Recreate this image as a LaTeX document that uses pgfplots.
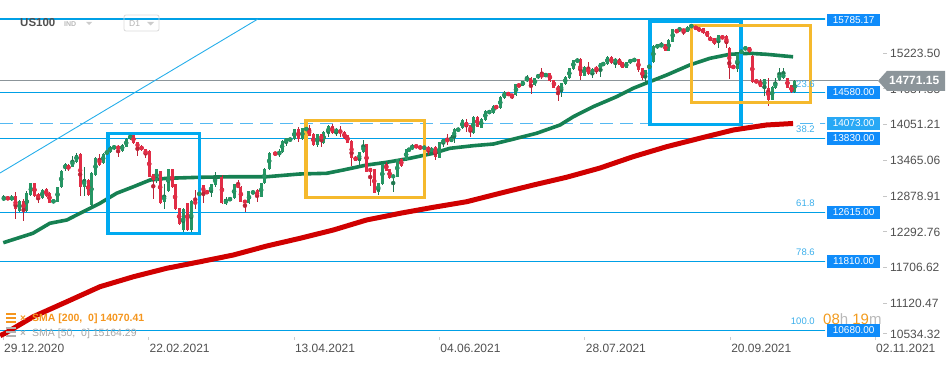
\documentclass[border=0pt]{standalone}
\usepackage{fontspec}
\setmainfont{Liberation Sans}
\usepackage{pgfplots}
\usepackage{pgfplotstable}
\pgfplotsset{compat=1.18}

\definecolor{cgreen}{RGB}{38,150,100}
\definecolor{cgreenw}{RGB}{30,120,80}
\definecolor{cred}{RGB}{225,45,70}
\definecolor{credw}{RGB}{190,35,55}
\definecolor{smagreen}{RGB}{22,128,82}
\definecolor{smared}{RGB}{208,0,0}
\definecolor{lvl}{RGB}{0,160,230}
\definecolor{lvldash}{RGB}{85,185,242}
\definecolor{boxblue}{RGB}{0,170,240}
\definecolor{boxorange}{RGB}{245,185,45}
\definecolor{tagblue}{RGB}{15,140,250}
\definecolor{tagblue2}{RGB}{40,168,245}
\definecolor{pricegray}{RGB}{140,149,154}
\definecolor{txtgray}{RGB}{80,80,80}
\definecolor{fibblue}{RGB}{60,175,235}
\definecolor{tmorange}{RGB}{242,155,30}
\definecolor{legorange}{RGB}{245,150,30}

\newcommand{\td}{{\color{gray!45}\rule[4pt]{4pt}{0.7pt}}\hspace{3pt}}

\pgfplotstableread{
i o h l c
0.2 12816 12898 12800 12860
2.2 12816 12890 12800 12871
4.1 12641 12810 12620 12794
5.9 12641 12960 12620 12937
6.9 12898 13100 12880 13090
9.7 12844 12995 12830 12980
12.5 12772 12830 12760 12816
13.5 12789 13030 12780 13024
14.4 13024 13310 13010 13298
15.4 13319 13420 13300 13407
17.2 13363 13538 13350 13473
18.2 13445 13593 13430 13560
20.1 13035 13363 12882 13155
21.9 12734 13270 12720 13254
22.9 13226 13520 13210 13500
24.8 13429 13590 13410 13571
25.7 13570 13640 13550 13620
26.5 13604 13700 13590 13680
27.5 13659 13720 13640 13702
29.5 13626 13740 13610 13724
30.5 13691 13830 13680 13812
31.5 13812 13900 13800 13883
38.0 13128 13330 13100 13325
39.9 12789 13073 12668 12898
40.9 12964 13330 12942 13325
44.6 12324 12680 12269 12668
46.6 12324 12810 12269 12800
48.6 12800 13050 12780 13035
51.5 12926 13080 12871 13073
52.5 13062 13281 13035 13199
55.2 12745 12860 12740 12833
56.2 12816 12850 12810 12843
57.2 12843 13080 12830 13073
60.9 12761 12970 12750 12964
61.9 12920 12970 12910 12964
63.9 12871 13100 12860 13090
64.7 13090 13340 13080 13325
65.9 13325 13600 13310 13593
68.4 13555 13648 13516 13626
69.1 13600 13800 13590 13790
70.1 13757 13840 13702 13828
71.1 13790 13835 13780 13828
72.1 13812 13985 13800 13976
74.1 13812 14000 13800 13992
75.1 13960 14020 13940 14000
77.8 13719 13905 13691 13899
79.4 13746 13945 13740 13937
80.5 13899 14040 13855 14030
82.5 13932 13990 13866 13976
88.2 13462 13605 13390 13598
89.2 13598 13801 13590 13719
92.9 12953 13100 12898 13090
93.9 13079 13415 13070 13407
96.6 13183 13235 12953 13226
97.6 13199 13490 13190 13483
99.8 13473 13660 13460 13653
100.5 13621 13670 13610 13664
101.3 13648 13735 13640 13703
104.3 13650 13710 13640 13700
106.1 13599 13690 13590 13675
108.0 13511 13770 13500 13763
109.0 13746 13825 13692 13817
111.0 13774 13883 13765 13828
111.7 13828 13990 13746 13982
112.7 13949 14000 13940 13992
113.7 13992 14140 13980 14129
116.4 13910 14195 13900 14184
118.4 14003 14155 13995 14146
119.4 14129 14285 14120 14277
120.4 14239 14290 14230 14277
121.4 14239 14375 14230 14364
123.1 14321 14520 14310 14512
124.1 14485 14600 14475 14594
127.0 14539 14720 14530 14715
128.7 14693 14775 14685 14769
129.7 14769 14868 14760 14824
131.7 14704 14820 14695 14813
132.5 14813 14890 14805 14879
134.4 14840 14900 14830 14895
138.2 14583 14740 14512 14731
139.2 14714 14850 14700 14840
140.2 14813 14985 14805 14977
141.2 14966 15120 14955 15114
142.2 15075 15140 15070 15130
143.9 14856 15010 14850 15004
145.9 14895 14975 14813 14966
147.9 14977 15065 14840 15059
148.6 15021 15085 15010 15075
149.6 15042 15175 15035 15168
151.6 15075 15140 14988 15130
154.3 14988 15080 14980 15075
155.3 15059 15135 15050 15130
156.3 15097 15140 15090 15130
159.0 14840 14955 14731 14949
160.0 14911 15105 14900 15097
161.0 15075 15355 15070 15349
162.0 15305 15380 15300 15371
163.0 15332 15403 15325 15371
164.8 15261 15450 15255 15442
165.8 15414 15630 15405 15622
167.5 15589 15650 15580 15644
169.5 15578 15670 15570 15661
170.4 15650 15700 15640 15690
177.1 15387 15530 15316 15524
181.8 14966 15215 14922 15207
182.8 15207 15300 15200 15290
183.8 15283 15335 15275 15327
188.5 14676 14810 14528 14802
190.4 14457 14685 14450 14676
191.2 14649 14813 14640 14758
192.2 14785 14988 14775 14895
193.2 14813 14988 14805 14895
196.0 14583 14790 14575 14771
}\up

\pgfplotstableread{
i o h l c
1.2 12860 12880 12810 12827
3.1 12882 12953 12510 12663
5.1 12794 12827 12477 12652
7.8 13090 13100 12860 12882
8.7 12915 12930 12761 12844
10.7 13002 13020 12870 12882
11.5 12937 12950 12760 12772
16.2 13385 13400 13300 13319
19.1 13571 13590 12882 13035
21.1 13144 13160 12880 12898
23.9 13500 13571 13380 13391
28.5 13702 13720 13516 13648
32.3 13883 13900 13730 13746
33.3 13762 13770 13544 13675
34.3 13708 13720 13620 13631
35.3 13653 13660 13500 13555
36.2 13620 13630 13190 13199
37.2 13237 13250 12833 13144
38.9 13292 13300 12750 12761
41.9 13325 13330 13020 13035
42.6 13073 13080 12650 12663
43.6 12679 12690 12400 12417
45.6 12761 12770 12310 12324
47.6 12800 12980 12668 12745
49.6 13062 13070 12761 12926
50.5 12964 12970 12920 12926
54.2 13199 13220 12750 12761
58.2 13073 13144 13010 13019
58.9 13035 13040 12780 12789
59.9 12816 12820 12625 12761
62.9 12980 12990 12778 12871
67.4 13604 13610 13540 13555
73.1 13987 14019 13773 13812
75.8 13992 14047 13860 13866
76.8 13899 13910 13700 13713
78.8 13899 13905 13691 13790
81.5 14030 14063 13900 13910
83.5 13965 14030 13855 13910
84.5 13937 13945 13820 13828
85.3 13883 13890 13750 13757
86.3 13790 13800 13374 13500
87.3 13527 13540 13450 13462
90.0 13735 13740 13270 13281
90.9 13336 13340 13046 13281
91.9 13319 13330 12925 12936
94.9 13407 13445 13290 13297
95.7 13319 13330 13160 13172
98.6 13483 13500 13360 13374
102.3 13719 13725 13670 13675
103.3 13708 13715 13640 13648
105.3 13692 13700 13555 13621
107.0 13692 13700 13473 13528
110.0 13817 13894 13720 13774
114.7 14102 14146 13938 14020
115.7 14047 14055 13856 13927
117.4 14184 14195 14010 14020
122.1 14359 14365 14315 14321
125.1 14583 14590 14520 14529
126.0 14550 14555 14474 14512
127.7 14715 14720 14670 14676
130.7 14824 14830 14550 14704
133.4 14878 14977 14802 14840
135.4 14895 14900 14760 14769
136.4 14785 14790 14650 14660
137.4 14692 14700 14441 14583
142.9 15130 15140 14785 14856
144.9 15004 15075 14870 14878
146.9 15004 15010 14878 14933
150.6 15168 15175 15050 15059
152.6 15130 15152 15025 15031
153.3 15075 15080 14980 14988
157.3 15130 15135 14922 14949
158.3 14977 14985 14785 14813
164.0 15371 15380 15255 15261
166.8 15606 15615 15560 15568
168.5 15622 15630 15524 15578
171.5 15661 15670 15615 15622
172.3 15644 15650 15580 15589
173.3 15633 15640 15545 15551
174.3 15589 15595 15490 15496
175.1 15496 15500 15420 15425
176.1 15469 15475 15365 15371
178.1 15513 15520 15450 15458
179.1 15513 15520 15305 15371
179.8 15316 15320 14802 14977
180.8 15021 15030 14970 14977
184.8 15327 15335 15230 15239
185.5 15185 15190 14740 14747
186.5 14785 14790 14731 14747
187.5 14758 14802 14670 14676
189.4 14660 14813 14364 14457
194.2 14813 14820 14650 14660
195.2 14704 14710 14575 14583
}\dn

\pgfplotstableread{
i v
0.07 12115
7.4 12270
11.6 12434
15.8 12488
20.7 12652
24.0 12762
28.1 12926
32.3 13034
36.4 13144
40.5 13172
48.8 13189
56.9 13198
65.3 13198
73.5 13243
80.1 13254
84.2 13308
90.0 13390
95.0 13435
100.7 13500
106.5 13582
110.6 13664
116.4 13707
121.4 13735
125.5 13801
132.1 13911
137.9 14047
141.2 14183
146.1 14347
151.9 14511
156.0 14649
160.1 14757
164.3 14867
170.0 15031
175.0 15141
179.9 15207
184.9 15223
189.0 15207
195.6 15166
}\smaA

\pgfplotstableread{
i v
-0.7 10590
0.5 10628
7.5 10901
15.8 11147
24.0 11393
32.3 11557
40.5 11695
48.8 11803
57.0 11913
65.3 12061
73.5 12187
81.8 12324
90.0 12488
98.3 12598
106.5 12696
114.8 12788
123.0 12926
131.3 13062
139.5 13189
147.8 13341
156.0 13527
164.3 13691
172.5 13829
180.8 13965
189.0 14047
195.6 14072
}\smaB

\pgfplotsset{
  candle/.style n args={2}{color=#1, only marks, mark=none,
    error bars/.cd, y dir=both, y explicit, error mark=none,
    error mark options={draw=none},
    error bar style={color=#1, solid, line width=#2}},
}

\begin{document}
\begin{tikzpicture}
\begin{axis}[
  at={(0pt,25pt)}, anchor=south west,
  scale only axis, width=825pt, height=340pt,
  xmin=-0.74, xmax=203.5, ymin=10518.6, ymax=16098,
  axis line style={draw=none},
  xtick={0,36,72,108,144,180},
  xticklabels={29.12.2020,22.02.2021,13.04.2021,04.06.2021,28.07.2021,20.09.2021},
  xtick pos=left,
  xticklabel style={anchor=north west, inner sep=0pt, xshift=1pt, yshift=-3.5pt,
     font=\fontsize{12}{14}\selectfont, text=txtgray},
  major tick length=3pt,
  xtick style={draw=gray!40, line width=0.6pt},
  ytick={11120.47,11706.62,12292.76,12878.91,13465.06,14051.21,14637.35,15223.50},
  yticklabels={{\td 11120.47},{\td 11706.62},{\td 12292.76},{\td 12878.91},{\td 13465.06},{\td 14051.21},{\td 14637.35},{\td 15223.50}},
  yticklabel pos=right,
  ytick style={draw=none},
  yticklabel style={anchor=west, inner sep=0pt, xshift=58pt,
     font=\fontsize{12}{14}\selectfont, text=txtgray},
  /pgf/number format/assume math mode=true,
]
% horizontal levels
\addplot[lvl, line width=1.2pt] coordinates {(-1,15785.17) (204,15785.17)};
\addplot[lvl, line width=1.2pt] coordinates {(-1,14580) (204,14580)};
\addplot[lvl, line width=1.2pt] coordinates {(-1,13830) (204,13830)};
\addplot[lvl, line width=1.2pt] coordinates {(-1,12615) (204,12615)};
\addplot[lvl, line width=1.2pt] coordinates {(-1,11810) (204,11810)};
\addplot[lvl, line width=1.2pt] coordinates {(-1,10680) (204,10680)};
\addplot[lvldash, line width=1.8pt, dash pattern=on 13pt off 7pt] coordinates {(-0.74,14073) (204,14073)};
\addplot[pricegray, line width=1.2pt] coordinates {(-1,14771.15) (204,14771.15)};
% trend line
\addplot[lvl!85, line width=0.9pt] coordinates {(-0.74,13259) (63.1,15786)};
% moving averages
\addplot[smared, line width=5pt, line join=round] table[x=i, y=v] {\smaB};
\addplot[smagreen, line width=3.6pt, line join=round] table[x=i, y=v] {\smaA};
% candles: wicks
\addplot[candle={cgreenw}{0.8pt}]
  table[x=i, y expr={(\thisrow{h}+\thisrow{l})/2}, y error expr={(\thisrow{h}-\thisrow{l})/2}] {\up};
\addplot[candle={credw}{0.8pt}]
  table[x=i, y expr={(\thisrow{h}+\thisrow{l})/2}, y error expr={(\thisrow{h}-\thisrow{l})/2}] {\dn};
% candles: bodies
\addplot[candle={cgreen}{3pt}]
  table[x=i, y expr={(\thisrow{o}+\thisrow{c})/2}, y error expr={max(abs(\thisrow{c}-\thisrow{o})/2,8)}] {\up};
\addplot[candle={cred}{3pt}]
  table[x=i, y expr={(\thisrow{o}+\thisrow{c})/2}, y error expr={max(abs(\thisrow{c}-\thisrow{o})/2,8)}] {\dn};
% boxes
\addplot[boxblue, line width=3.3pt, line join=miter, line cap=rect] coordinates {(26.0,13904) (48.6,13904) (48.6,12263) (26.0,12263) (26.0,13904)};
\addplot[boxorange, line width=3.3pt, line join=miter, line cap=rect] coordinates {(75.05,14120) (104.3,14120) (104.3,12860) (75.05,12860) (75.05,14120)};
\addplot[boxblue, line width=3.3pt, line join=miter, line cap=rect] coordinates {(160.2,15745) (182.7,15745) (182.7,14058) (160.2,14058) (160.2,15745)};
\addplot[boxorange, line width=3.3pt, line join=miter, line cap=rect] coordinates {(170.5,15683) (199.9,15683) (199.9,14419) (170.5,14419) (170.5,15683)};

\coordinate (p15785) at (axis cs:203.5,15785.17);
\coordinate (p14580) at (axis cs:203.5,14580);
\coordinate (p14073) at (axis cs:203.5,14073);
\coordinate (p13830) at (axis cs:203.5,13830);
\coordinate (p12615) at (axis cs:203.5,12615);
\coordinate (p11810) at (axis cs:203.5,11810);
\coordinate (p10680) at (axis cs:203.5,10680);
\coordinate (pcur) at (axis cs:203.5,14771.15);
\coordinate (f1) at (axis cs:201.0,14580);
\coordinate (f2) at (axis cs:201.0,13830);
\coordinate (f3) at (axis cs:201.0,12615);
\coordinate (f4) at (axis cs:201.0,11810);
\coordinate (f5) at (axis cs:201.0,10680);
\end{axis}

\tikzset{tag/.style={fill=tagblue, text=white, inner sep=0pt, minimum width=53pt,
   minimum height=13pt, anchor=west, font=\fontsize{10}{12}\selectfont},
  fib/.style={anchor=base east, inner sep=0pt, text=fibblue, font=\fontsize{9.5}{11}\selectfont}}
% price tags
\node[tag, minimum height=12pt] at ([xshift=2pt,yshift=-0.5pt]p15785) {15785.17};
\node[tag] at ([xshift=2pt]p14580) {14580.00};
\node[tag, fill=tagblue2] at ([xshift=2pt]p14073) {14073.00};
\node[tag] at ([xshift=2pt]p13830) {13830.00};
\node[tag] at ([xshift=2pt]p12615) {12615.00};
\node[tag] at ([xshift=2pt]p11810) {11810.00};
\node[tag] at ([xshift=2pt]p10680) {10680.00};
% current price
\draw[pricegray, line width=1.2pt] (pcur) -- ([xshift=53pt]pcur);
\fill[pricegray] ([xshift=53pt]pcur) -- ([xshift=62pt,yshift=-10pt]pcur) -- ([xshift=120pt,yshift=-10pt]pcur)
   -- ([xshift=120pt,yshift=10pt]pcur) -- ([xshift=62pt,yshift=10pt]pcur) -- cycle;
\node[anchor=west, inner sep=0pt, text=white, font=\bfseries\fontsize{12}{14}\selectfont] at ([xshift=64pt]pcur) {14771.15};
% fib labels
\node[fib] at ([yshift=5.5pt]f1) {23.6};
\node[fib] at ([yshift=5.5pt]f2) {38.2};
\node[fib] at ([yshift=5.5pt]f3) {61.8};
\node[fib] at ([yshift=5.5pt]f4) {78.6};
\node[fib] at ([yshift=5.5pt]f5) {100.0};
% bottom axis extras
\node[anchor=west, inner sep=0pt, font=\fontsize{12}{14}\selectfont, text=txtgray] at (883pt,31pt) {\td 10534.32};
\draw[gray!40, line width=0.6pt] (875pt,25pt) -- (875pt,28pt);
\node[anchor=north west, inner sep=0pt, font=\fontsize{12}{14}\selectfont, text=txtgray] at (876pt,21.5pt) {02.11.2021};
% countdown
\node[anchor=base west, inner sep=0pt, font=\fontsize{15}{17}\selectfont] at (823pt,40.5pt)
  {{\color{tmorange}08}{\color{gray!55}h} {\color{tmorange}19}{\color{gray!55}m}};
% header
\node[anchor=base west, inner sep=0pt, font=\bfseries\fontsize{11.5}{13}\selectfont, text=txtgray] at (20pt,338pt) {US100};
\node[anchor=base west, inner sep=0pt, font=\bfseries\fontsize{7}{8}\selectfont, text=gray!55] at (64pt,338pt) {IND};
\fill[gray!40] (86pt,343pt) -- (92pt,343pt) -- (89pt,340pt) -- cycle;
\draw[gray!30, line width=0.8pt, rounded corners=2pt] (124pt,334pt) rectangle (159pt,350pt);
\node[anchor=base west, inner sep=0pt, font=\fontsize{8.5}{10}\selectfont, text=gray!60] at (129pt,338pt) {D1};
\fill[gray!40] (147pt,343pt) -- (154pt,343pt) -- (150.5pt,339.5pt) -- cycle;
% legend
\fill[legorange] (6pt,50.5pt) rectangle (16pt,52.5pt);
\fill[legorange] (6pt,46.5pt) rectangle (16pt,48.5pt);
\fill[legorange] (6pt,42.5pt) rectangle (16pt,44.5pt);
\node[anchor=base west, inner sep=0pt, text=legorange, font=\bfseries\fontsize{10}{12}\selectfont] at (20pt,43.3pt) {×};
\node[anchor=base west, inner sep=0pt, text=legorange, font=\bfseries\fontsize{10.5}{12}\selectfont] at (32pt,43.3pt) {SMA [200,\ \ 0] 14070.41};
\fill[gray!60] (6pt,36pt) rectangle (16pt,38pt);
\fill[gray!60] (6pt,32pt) rectangle (16pt,34pt);
\fill[gray!60] (6pt,28pt) rectangle (16pt,30pt);
\node[anchor=base west, inner sep=0pt, text=gray!60, font=\bfseries\fontsize{10}{12}\selectfont] at (20pt,28.6pt) {×};
\node[anchor=base west, inner sep=0pt, text=gray!70, font=\fontsize{10.5}{12}\selectfont] at (32pt,28.6pt) {SMA [50,\ \ 0] 15164.29};
\pgfresetboundingbox
\path[use as bounding box] (0,0) rectangle (950pt,365pt);
\end{tikzpicture}
\end{document}
